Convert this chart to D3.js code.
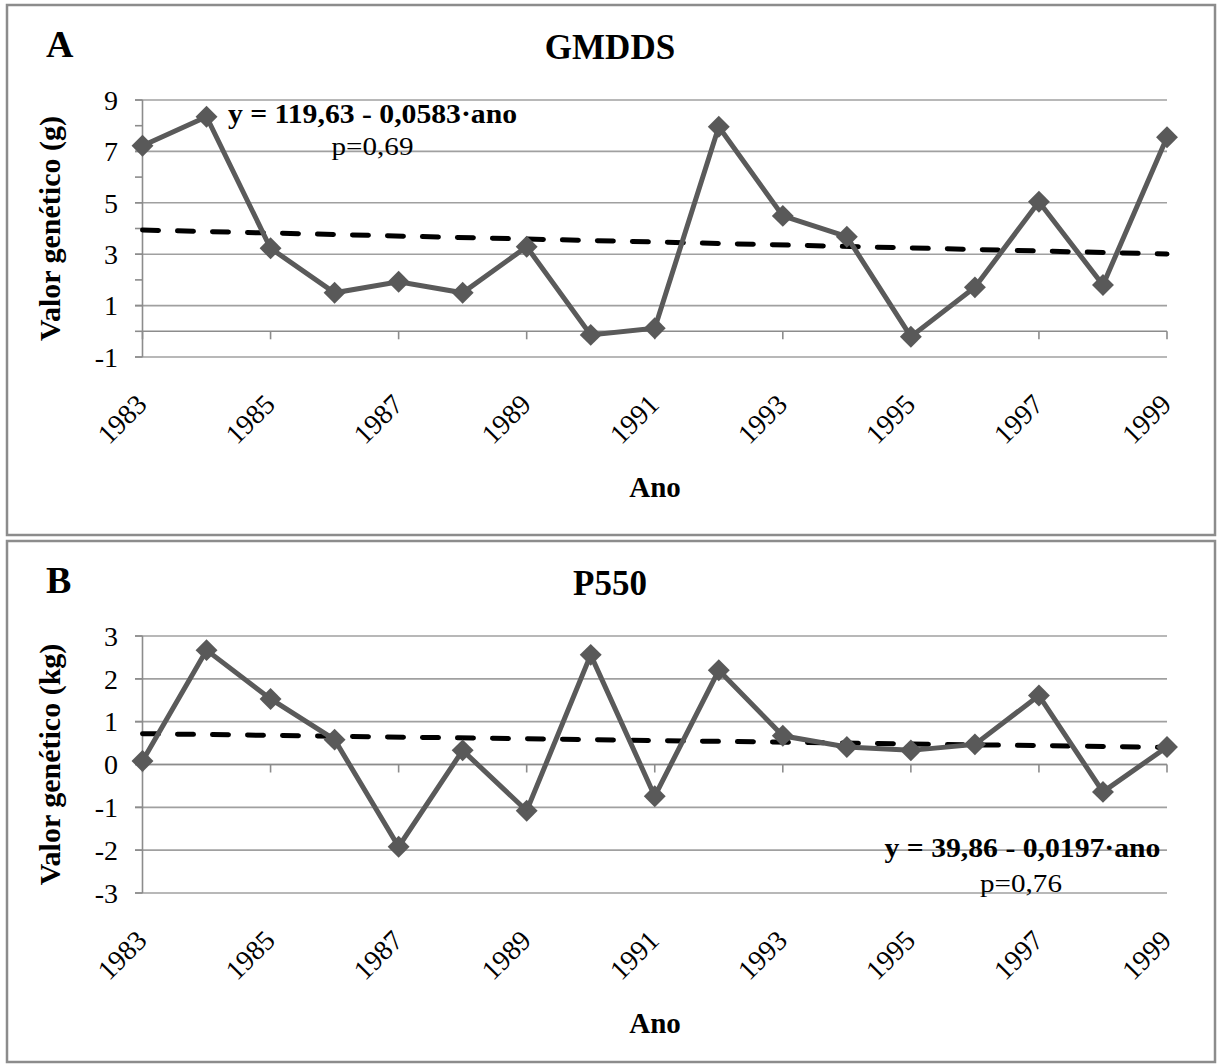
<!DOCTYPE html>
<html>
<head>
<meta charset="utf-8">
<script src="https://cdn.jsdelivr.net/npm/d3@7"></script>
<style>
  body { margin: 0; background: #fff; }
</style>
</head>
<body>
<svg id="chart" width="1218" height="1064" font-family="'Liberation Serif', 'Times New Roman', Times, serif"></svg>
<script>
// categorias (anos)
var anos = [1983, 1984, 1985, 1986, 1987, 1988, 1989, 1990, 1991,
            1992, 1993, 1994, 1995, 1996, 1997, 1998, 1999];
var anoLabels = [1983, 1985, 1987, 1989, 1991, 1993, 1995, 1997, 1999];

// valores geneticos
var gmdds = [7.22, 8.35, 3.23, 1.50, 1.93, 1.50, 3.29, -0.14, 0.12,
             7.96, 4.49, 3.68, -0.21, 1.71, 5.04, 1.80, 7.55];
var p550 = [0.08, 2.67, 1.53, 0.58, -1.92, 0.33, -1.08, 2.56, -0.74,
            2.20, 0.67, 0.41, 0.33, 0.47, 1.61, -0.64, 0.41];

// linha de tendencia (valor em 1983 e em 1999)
var trendGmdds = [3.94, 3.01];
var trendP550 = [0.72, 0.40];

// eixos y
var gridGmdds = [9, 7, 5, 3, 1, -1];
var tickGmdds = [9, 8, 7, 6, 5, 4, 3, 2, 1, 0, -1];
var gridP550 = [3, 2, 1, 0, -1, -2, -3];

var svg = d3.select('#chart');
var FONT = "'Liberation Serif', 'Times New Roman', Times, serif";

function drawPanel(c) {
    var g = svg.append('g').attr('transform', 'translate(0,' + c.top + ')');

    // borda do painel
    g.append('rect')
        .attr('x', 7).attr('y', 5)
        .attr('width', 1208).attr('height', c.h)
        .attr('fill', 'none')
        .attr('stroke', '#8c8c8c')
        .attr('stroke-width', 2.5);

    var x = d3.scalePoint().domain(anos).range([142.5, 1167]);
    var y = d3.scaleLinear().domain(c.domain).range([357, 100]);

    // grade
    g.selectAll('.grid').data(c.grid).enter().append('line')
        .attr('x1', 135).attr('x2', 1167)
        .attr('y1', function (d) { return y(d); })
        .attr('y2', function (d) { return y(d); })
        .attr('stroke', '#a0a0a0')
        .attr('stroke-width', 1.6);

    // marcas do eixo y
    g.selectAll('.ytick').data(c.ticks).enter().append('line')
        .attr('x1', 135).attr('x2', 142.5)
        .attr('y1', function (d) { return y(d); })
        .attr('y2', function (d) { return y(d); })
        .attr('stroke', '#8c8c8c')
        .attr('stroke-width', 1.6);

    // eixo y
    g.append('line')
        .attr('x1', 142.5).attr('x2', 142.5)
        .attr('y1', y(c.domain[1])).attr('y2', y(c.domain[0]))
        .attr('stroke', '#8c8c8c').attr('stroke-width', 1.6);

    // eixo x (cruza em 0)
    g.append('line')
        .attr('x1', 142.5).attr('x2', 1167)
        .attr('y1', y(0)).attr('y2', y(0))
        .attr('stroke', '#8c8c8c').attr('stroke-width', 1.6);

    g.selectAll('.xtick').data(anoLabels).enter().append('line')
        .attr('x1', function (d) { return x(d); })
        .attr('x2', function (d) { return x(d); })
        .attr('y1', y(0)).attr('y2', y(0) + 8)
        .attr('stroke', '#8c8c8c').attr('stroke-width', 1.6);

    // rotulos y
    g.selectAll('.ylab').data(c.grid).enter().append('text')
        .attr('x', 118)
        .attr('y', function (d) { return y(d); })
        .attr('dy', '0.35em')
        .attr('text-anchor', 'end')
        .attr('font-family', FONT)
        .attr('font-size', 28)
        .text(function (d) { return d; });

    // rotulos x
    g.selectAll('.xlab').data(anoLabels).enter().append('text')
        .attr('transform', function (d) { return 'translate(' + (x(d) + 6) + ',406) rotate(-45)'; })
        .attr('text-anchor', 'end')
        .attr('font-family', FONT)
        .attr('font-size', 28)
        .text(function (d) { return d; });

    // titulos
    g.append('text').attr('x', 46).attr('y', 57)
        .attr('font-family', FONT)
        .attr('font-size', 38).attr('font-weight', 'bold')
        .text(c.letter);
    g.append('text').attr('x', 610).attr('y', 59)
        .attr('text-anchor', 'middle')
        .attr('font-family', FONT)
        .attr('font-size', 35).attr('font-weight', 'bold')
        .text(c.title);
    g.append('text').attr('x', 655).attr('y', 497)
        .attr('text-anchor', 'middle')
        .attr('font-family', FONT)
        .attr('font-size', 29).attr('font-weight', 'bold')
        .text('Ano');
    g.append('text')
        .attr('transform', 'translate(60,228.5) rotate(-90)')
        .attr('text-anchor', 'middle')
        .attr('font-family', FONT)
        .attr('font-size', 30).attr('font-weight', 'bold')
        .text(c.ytitle);

    // tendencia
    g.append('line')
        .attr('x1', x(anos[0])).attr('x2', x(anos[anos.length - 1]))
        .attr('y1', y(c.trend[0])).attr('y2', y(c.trend[1]))
        .attr('stroke', '#000')
        .attr('stroke-width', 5)
        .attr('stroke-linecap', 'round')
        .attr('stroke-dasharray', '16,19');

    // serie
    var line = d3.line()
        .x(function (d, i) { return x(anos[i]); })
        .y(function (d) { return y(d); });
    g.append('path').datum(c.values)
        .attr('d', line)
        .attr('fill', 'none')
        .attr('stroke', '#5a5a5a')
        .attr('stroke-width', 5);

    var diamond = d3.symbol().type(d3.symbolSquare).size(240);
    g.selectAll('.pt').data(c.values).enter().append('path')
        .attr('d', diamond)
        .attr('transform', function (d, i) { return 'translate(' + x(anos[i]) + ',' + y(d) + ') rotate(45)'; })
        .attr('fill', '#595959');

    // equacao
    g.append('text')
        .attr('transform', 'translate(' + c.eq[0] + ',' + c.eq[1] + ') scale(1.1,1)')
        .attr('text-anchor', 'middle')
        .attr('font-family', FONT)
        .attr('font-size', 27).attr('font-weight', 'bold')
        .text(c.eqText);
    g.append('text')
        .attr('transform', 'translate(' + c.pv[0] + ',' + c.pv[1] + ') scale(1.12,1)')
        .attr('text-anchor', 'middle')
        .attr('font-family', FONT)
        .attr('font-size', 26)
        .text(c.pText);
}

drawPanel({
    top: 0, h: 530, letter: 'A', title: 'GMDDS', ytitle: 'Valor genético (g)',
    domain: [-1, 9], grid: gridGmdds, ticks: tickGmdds,
    values: gmdds, trend: trendGmdds,
    eq: [372.5, 123], pv: [372.5, 155],
    eqText: 'y = 119,63 - 0,0583·ano', pText: 'p=0,69'
});

drawPanel({
    top: 536, h: 521, letter: 'B', title: 'P550', ytitle: 'Valor genético (kg)',
    domain: [-3, 3], grid: gridP550, ticks: gridP550,
    values: p550, trend: trendP550,
    eq: [1022.5, 320.5], pv: [1021, 356],
    eqText: 'y = 39,86 - 0,0197·ano', pText: 'p=0,76'
});
</script>
</body>
</html>
